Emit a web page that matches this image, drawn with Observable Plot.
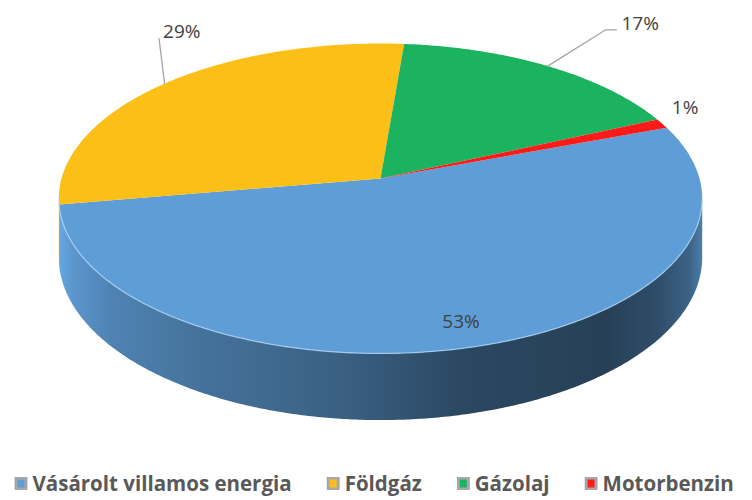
<!DOCTYPE html>
<html><head><meta charset="utf-8">
<script src="https://cdn.jsdelivr.net/npm/d3@7"></script>
<script src="https://cdn.jsdelivr.net/npm/@observablehq/plot@0.6"></script>
<style>body{margin:0;background:#fff;}#chart svg{display:block;}</style>
</head><body><div id="chart"></div>
<script>
// ---- data ----
const categories = ["Vásárolt villamos energia", "Földgáz", "Gázolaj", "Motorbenzin"];
const shares = [53, 29, 17, 1];
const labels = ["53%", "29%", "17%", "1%"];

// ---- styles / layout ----
const palette = ["#5f9dd6", "#fcbf17", "#1bb35f", "#ff1a1a"];
const W = 752, H = 500;
const geom = {cx: 380, cy: 178, A: 319, B: 152.4, p: 0.129, depth: 58, start: 69.6};
// label placement: inside (r) or outside with a leader relative to the slice's rim point
const labelLayout = [
  {inside: 0.87},
  {leader: [[0, 0], [-5.5, -45]], text: [-1.5, -52], anchor: "start"},
  {leader: [[0, 0], [58, -36.3], [68.7, -36.3]], text: [73.7, -42.3], anchor: "start"},
  {text: [23, -16], anchor: "middle"}
];
const legendFont = {size: 20.5, family: "Open Sans"};

function proj(deg, r = 1, drop = 0) {
  const t = deg * Math.PI / 180;
  const u = r * Math.sin(t), v = -r * Math.cos(t);
  const k = 1 / (1 - geom.p * v);
  return [geom.cx + geom.A * u * k, geom.cy + (geom.B * v + drop) * k];
}

const rows = categories.map((c, i) => ({cat: c, share: shares[i], label: labels[i], i}));
const rad = Math.PI / 180;
const arcs = d3.pie().sort(null).value(d => d.share)
  .startAngle(geom.start * rad).endAngle((geom.start + 360) * rad)(rows)
  .map(a => ({...a.data, a0: a.startAngle / rad, a1: a.endAngle / rad}));

function range(a, b, step = 0.5) {
  const out = [];
  for (let t = a; t < b; t += step) out.push(t);
  out.push(b);
  return out;
}

// top face polygons
const topPts = [];
for (const s of arcs) {
  topPts.push({cat: s.cat, x: geom.cx, y: geom.cy});
  for (const t of range(s.a0, s.a1)) {
    const [x, y] = proj(t);
    topPts.push({cat: s.cat, x, y});
  }
}

// visible front side (between silhouette angles)
const thR = Math.acos(-geom.p) / rad, thL = 360 - thR;
const sides = [];
for (const s of arcs) {
  for (const sh of [-360, 0, 360]) {
    const lo = Math.max(s.a0 + sh, thR), hi = Math.min(s.a1 + sh, thL);
    if (hi > lo) {
      const key = s.cat + sh;
      const ts = range(lo, hi);
      for (const t of ts) { const [x, y] = proj(t); sides.push({key, i: s.i, x, y}); }
      for (const t of ts.slice().reverse()) { const [x, y] = proj(t, 1, geom.depth); sides.push({key, i: s.i, x, y}); }
    }
  }
}
const rim = range(thR, thL).map(t => { const [x, y] = proj(t); return {x, y}; });

// labels and leaders
const labelRows = [], leaderRows = [];
arcs.forEach((s, idx) => {
  const L = labelLayout[idx];
  const mid = (s.a0 + s.a1) / 2;
  if (L.inside) {
    const [x, y] = proj(mid, L.inside);
    labelRows.push({x, y, text: s.label, anchor: "middle"});
  } else {
    const [ex, ey] = proj(mid);
    if (L.leader) L.leader.forEach(([dx, dy]) => leaderRows.push({key: s.cat, x: ex + dx, y: ey + dy}));
    labelRows.push({x: ex + L.text[0], y: ey + L.text[1], text: s.label, anchor: L.anchor});
  }
});

// legend layout from measured text widths
const ctx = document.createElement("canvas").getContext("2d");
ctx.font = `bold ${legendFont.size}px "${legendFont.family}"`;
const legendY = 483.5, box = 12, boxGap = 17, itemGap = 36;
let lx = 15;
const legendRows = categories.map(c => {
  const w = ctx.measureText(c).width;
  const r = {cat: c, bx: lx, tx: lx + boxGap};
  lx = lx + boxGap + w + itemGap;
  return r;
});

const labelStyle = {x: "x", y: "y", text: "text", fontSize: 19, fontFamily: "Open Sans", fill: "#404040"};
const plot = Plot.plot({
  width: W, height: H, margin: 0,
  x: {domain: [0, W], range: [0, W], axis: null},
  y: {domain: [0, H], range: [0, H], axis: null},
  color: {domain: categories, range: palette},
  style: {background: "#fff"},
  marks: [
    ...d3.groups(sides, d => d.key).map(([key, pts]) =>
      Plot.line(pts, {x: "x", y: "y", fill: `url(#side${pts[0].i})`, stroke: "none"})),
    Plot.line(topPts, {x: "x", y: "y", z: "cat", fill: "cat", stroke: "none"}),
    Plot.line(rim, {x: "x", y: "y", stroke: "#b3dafa", strokeWidth: 1.3, strokeOpacity: 0.7}),
    Plot.line(leaderRows, {x: "x", y: "y", z: "key", stroke: "#a6a6a6", strokeWidth: 1.3}),
    Plot.text(labelRows.filter(d => d.anchor === "middle"), {...labelStyle, textAnchor: "middle"}),
    Plot.text(labelRows.filter(d => d.anchor === "start"), {...labelStyle, textAnchor: "start"}),
    Plot.rect(legendRows, {x1: d => d.bx, x2: d => d.bx + box, y1: legendY - box / 2, y2: legendY + box / 2,
      fill: "#a9a9a9", stroke: "#8a8a8a", strokeWidth: 0.6}),
    Plot.rect(legendRows, {x1: d => d.bx + 2.5, x2: d => d.bx + box - 2.5, y1: legendY - box / 2 + 2, y2: legendY + box / 2 - 2,
      fill: "cat"}),
    Plot.text(legendRows, {x: "tx", y: legendY, text: "cat", textAnchor: "start", fontWeight: "bold",
      fontSize: legendFont.size, fontFamily: legendFont.family, fill: "#595959"})
  ]
});

// gradients for the cylinder side
const defs = d3.select(plot).insert("defs", ":first-child");
const stops = [[0, -0.2], [0.02, 0.1], [0.08, 0.5], [0.22, 0.9], [0.38, 1.25], [0.5, 1.6], [0.62, 2.2], [0.85, 2.5], [0.93, 2.0], [0.98, 1.3], [1, 0.6]];
palette.forEach((c, i) => {
  const g = defs.append("linearGradient").attr("id", `side${i}`).attr("gradientUnits", "userSpaceOnUse")
    .attr("x1", geom.cx - geom.A * 1.01).attr("x2", geom.cx + geom.A * 1.01).attr("y1", 0).attr("y2", 0);
  stops.forEach(([o, k]) => g.append("stop").attr("offset", o)
    .attr("stop-color", (k < 0 ? d3.color(c).brighter(-k) : d3.color(c).darker(k)).formatHex()));
});

document.getElementById("chart").appendChild(plot);
</script></body></html>
